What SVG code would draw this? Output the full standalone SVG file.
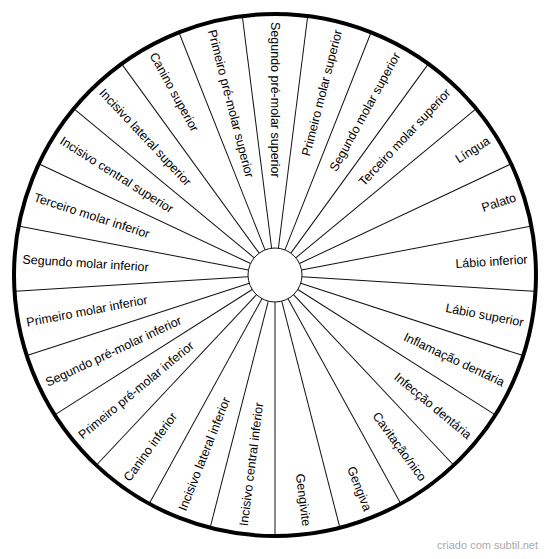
<svg xmlns="http://www.w3.org/2000/svg" width="550" height="559" viewBox="0 0 550 559">
<style>
.bg{fill:#fff}
.spoke{stroke:#111;stroke-width:1;fill:none}
.outer{fill:none;stroke:#000;stroke-width:4}
.hub{fill:#fff;stroke:#111;stroke-width:1}
.lbl{font-family:"Liberation Sans",Arial,sans-serif;font-size:12.5px;fill:#000}
.r{text-anchor:end}
.l{text-anchor:start}
.wm{font-family:"Liberation Sans",Arial,sans-serif;font-size:11px;fill:#aaa;text-anchor:end}
</style>
<rect class="bg" x="0" y="0" width="550" height="559"/>
<g transform="translate(275,275)">
<g id="connectors">
<line class="spoke" x1="27" y1="0" x2="260" y2="0" transform="rotate(90)"/>
<line class="spoke" x1="27" y1="0" x2="260" y2="0" transform="rotate(104.4)"/>
<line class="spoke" x1="27" y1="0" x2="260" y2="0" transform="rotate(118.8)"/>
<line class="spoke" x1="27" y1="0" x2="260" y2="0" transform="rotate(133.2)"/>
<line class="spoke" x1="27" y1="0" x2="260" y2="0" transform="rotate(147.6)"/>
<line class="spoke" x1="27" y1="0" x2="260" y2="0" transform="rotate(162)"/>
<line class="spoke" x1="27" y1="0" x2="260" y2="0" transform="rotate(176.4)"/>
<line class="spoke" x1="27" y1="0" x2="260" y2="0" transform="rotate(190.8)"/>
<line class="spoke" x1="27" y1="0" x2="260" y2="0" transform="rotate(205.2)"/>
<line class="spoke" x1="27" y1="0" x2="260" y2="0" transform="rotate(219.6)"/>
<line class="spoke" x1="27" y1="0" x2="260" y2="0" transform="rotate(234)"/>
<line class="spoke" x1="27" y1="0" x2="260" y2="0" transform="rotate(248.4)"/>
<line class="spoke" x1="27" y1="0" x2="260" y2="0" transform="rotate(262.8)"/>
<line class="spoke" x1="27" y1="0" x2="260" y2="0" transform="rotate(277.2)"/>
<line class="spoke" x1="27" y1="0" x2="260" y2="0" transform="rotate(291.6)"/>
<line class="spoke" x1="27" y1="0" x2="260" y2="0" transform="rotate(306)"/>
<line class="spoke" x1="27" y1="0" x2="260" y2="0" transform="rotate(320.4)"/>
<line class="spoke" x1="27" y1="0" x2="260" y2="0" transform="rotate(334.8)"/>
<line class="spoke" x1="27" y1="0" x2="260" y2="0" transform="rotate(349.2)"/>
<line class="spoke" x1="27" y1="0" x2="260" y2="0" transform="rotate(3.6)"/>
<line class="spoke" x1="27" y1="0" x2="260" y2="0" transform="rotate(18)"/>
<line class="spoke" x1="27" y1="0" x2="260" y2="0" transform="rotate(32.4)"/>
<line class="spoke" x1="27" y1="0" x2="260" y2="0" transform="rotate(46.8)"/>
<line class="spoke" x1="27" y1="0" x2="260" y2="0" transform="rotate(61.2)"/>
<line class="spoke" x1="27" y1="0" x2="260" y2="0" transform="rotate(75.6)"/>
</g>
<circle id="rim" class="outer" cx="0" cy="0" r="261"/>
<circle id="hub" class="hub" cx="0" cy="0" r="27"/>
<g id="n-segundo-pre-molar-superior"><text class="lbl l" x="-253" dy="0.35em" transform="rotate(90)">Segundo pré-molar superior</text></g>
<g id="n-primeiro-molar-superior"><text class="lbl r" x="253" dy="0.35em" transform="rotate(-75.6)">Primeiro molar superior</text></g>
<g id="n-segundo-molar-superior"><text class="lbl r" x="253" dy="0.35em" transform="rotate(-61.2)">Segundo molar superior</text></g>
<g id="n-terceiro-molar-superior"><text class="lbl r" x="253" dy="0.35em" transform="rotate(-46.8)">Terceiro molar superior</text></g>
<g id="n-lingua"><text class="lbl r" x="253" dy="0.35em" transform="rotate(-32.4)">Língua</text></g>
<g id="n-palato"><text class="lbl r" x="253" dy="0.35em" transform="rotate(-18)">Palato</text></g>
<g id="n-labio-inferior"><text class="lbl r" x="253" dy="0.35em" transform="rotate(-3.6)">Lábio inferior</text></g>
<g id="n-labio-superior"><text class="lbl r" x="253" dy="0.35em" transform="rotate(10.8)">Lábio superior</text></g>
<g id="n-inflamacao-dentaria"><text class="lbl r" x="253" dy="0.35em" transform="rotate(25.2)">Inflamação dentária</text></g>
<g id="n-infeccao-dentaria"><text class="lbl r" x="253" dy="0.35em" transform="rotate(39.6)">Infecção dentária</text></g>
<g id="n-cavitacao-nico"><text class="lbl r" x="253" dy="0.35em" transform="rotate(54)">Cavitação/nico</text></g>
<g id="n-gengiva"><text class="lbl r" x="253" dy="0.35em" transform="rotate(68.4)">Gengiva</text></g>
<g id="n-gengivite"><text class="lbl r" x="253" dy="0.35em" transform="rotate(82.8)">Gengivite</text></g>
<g id="n-incisivo-central-inferior"><text class="lbl l" x="-253" dy="0.35em" transform="rotate(-82.8)">Incisivo central inferior</text></g>
<g id="n-incisivo-lateral-inferior"><text class="lbl l" x="-253" dy="0.35em" transform="rotate(-68.4)">Incisivo lateral inferior</text></g>
<g id="n-canino-inferior"><text class="lbl l" x="-253" dy="0.35em" transform="rotate(-54)">Canino inferior</text></g>
<g id="n-primeiro-pre-molar-inferior"><text class="lbl l" x="-253" dy="0.35em" transform="rotate(-39.6)">Primeiro pré-molar inferior</text></g>
<g id="n-segundo-pre-molar-inferior"><text class="lbl l" x="-253" dy="0.35em" transform="rotate(-25.2)">Segundo pré-molar inferior</text></g>
<g id="n-primeiro-molar-inferior"><text class="lbl l" x="-253" dy="0.35em" transform="rotate(-10.8)">Primeiro molar inferior</text></g>
<g id="n-segundo-molar-inferior"><text class="lbl l" x="-253" dy="0.35em" transform="rotate(3.6)">Segundo molar inferior</text></g>
<g id="n-terceiro-molar-inferior"><text class="lbl l" x="-253" dy="0.35em" transform="rotate(18)">Terceiro molar inferior</text></g>
<g id="n-incisivo-central-superior"><text class="lbl l" x="-253" dy="0.35em" transform="rotate(32.4)">Incisivo central superior</text></g>
<g id="n-incisivo-lateral-superior"><text class="lbl l" x="-253" dy="0.35em" transform="rotate(46.8)">Incisivo lateral superior</text></g>
<g id="n-canino-superior"><text class="lbl l" x="-253" dy="0.35em" transform="rotate(61.2)">Canino superior</text></g>
<g id="n-primeiro-pre-molar-superior"><text class="lbl l" x="-253" dy="0.35em" transform="rotate(75.6)">Primeiro pré-molar superior</text></g>
</g>
<text class="wm" x="538" y="549">criado com subtil.net</text>
</svg>
